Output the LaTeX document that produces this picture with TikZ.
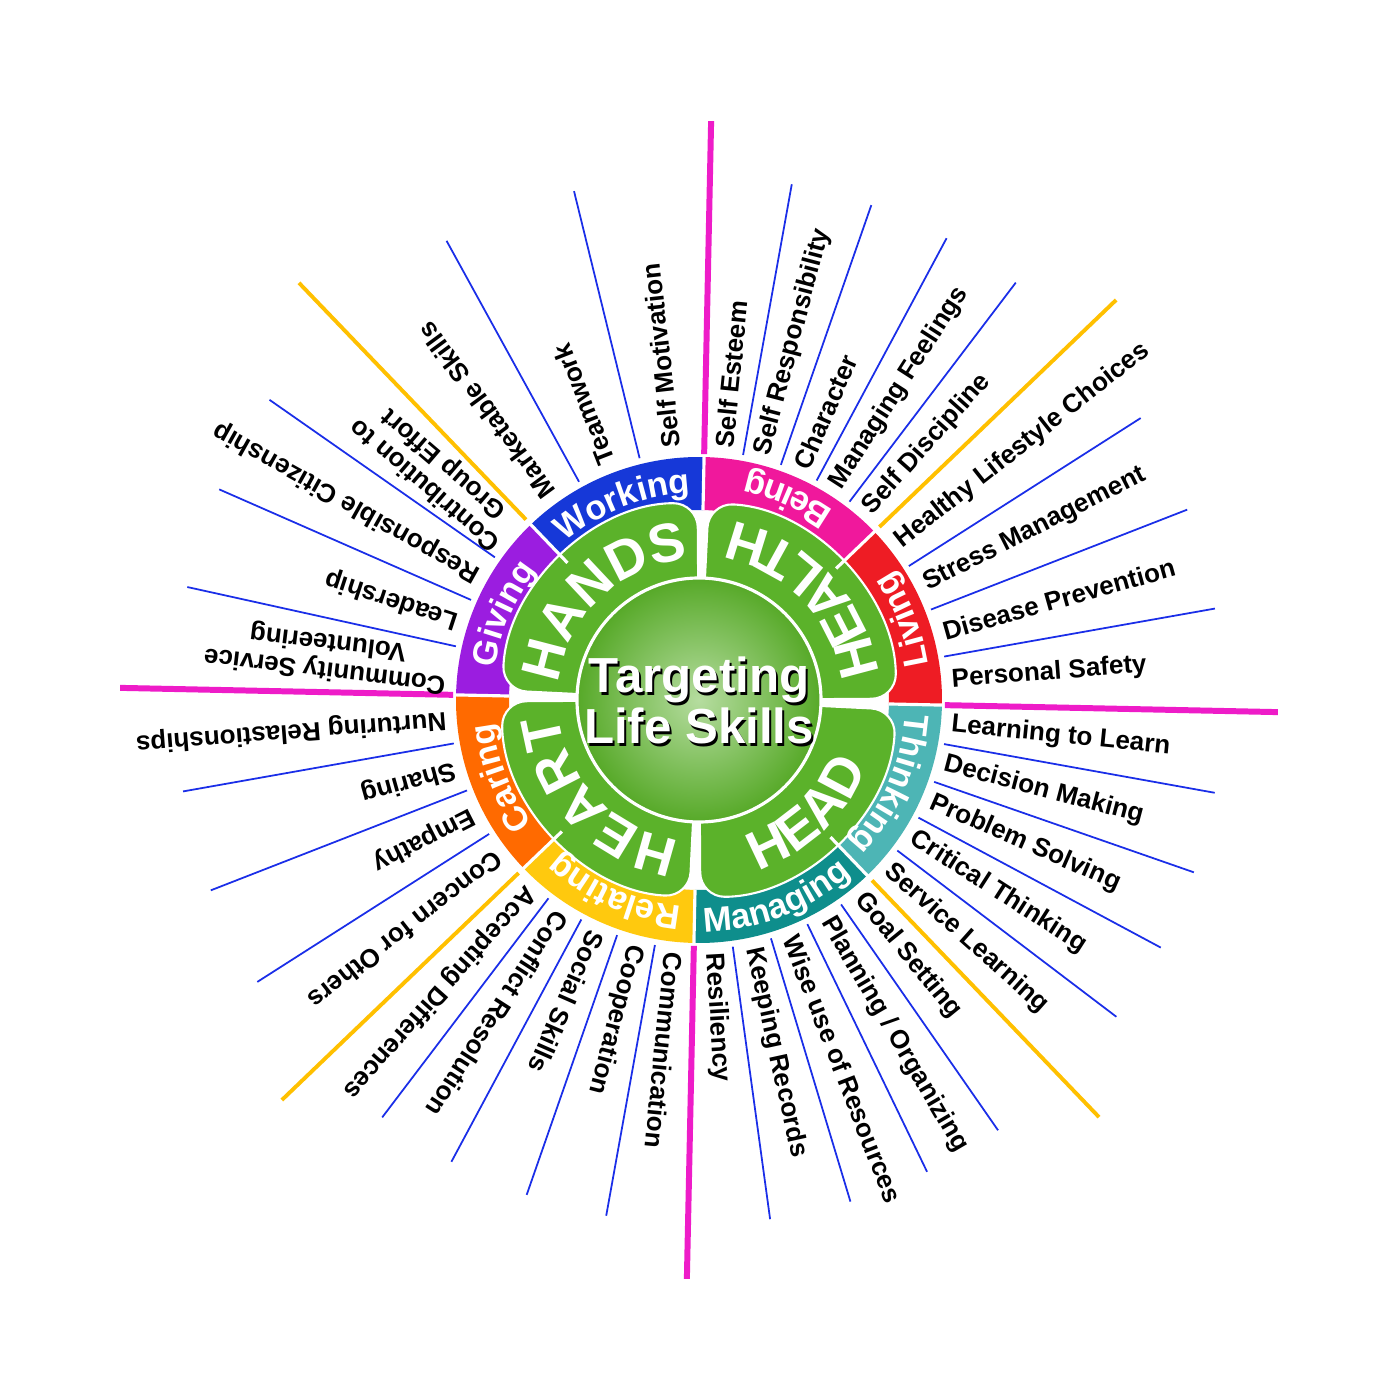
\documentclass[tikz,border=0pt]{standalone}
\usepackage{fontspec}
\setmainfont{Liberation Sans}
\usetikzlibrary{decorations.text}
\definecolor{cWork}{HTML}{1638D8}
\definecolor{cBeing}{HTML}{F0189C}
\definecolor{cLiving}{HTML}{EE1C24}
\definecolor{cThink}{HTML}{4DB5B5}
\definecolor{cManage}{HTML}{0E8E8C}
\definecolor{cRelate}{HTML}{FFC90E}
\definecolor{cCare}{HTML}{FF6A00}
\definecolor{cGive}{HTML}{9B1DE0}
\definecolor{cPetal}{HTML}{5BB22A}
\definecolor{cMag}{HTML}{EE1CC8}
\definecolor{cYel}{HTML}{FFC000}
\definecolor{cBlue}{HTML}{1A2EE8}
\tikzset{
  lbl/.style={anchor=west,inner sep=0pt,font=\fontsize{7.4}{8}\selectfont\bfseries,align=center},
  bluel/.style={cBlue,line width=0.5pt},
  ringtxt/.style={decorate,decoration={text along path,text align=center,text color=white,
     text={|\fontsize{9.8}{10}\selectfont\bfseries|#1}}},
  bigtxt/.style={decorate,decoration={text along path,text align=center,text color=white,
     text={|\fontsize{15.6}{16}\selectfont\bfseries|#1}}},
}
\begin{document}
\begin{tikzpicture}[x=0.01cm,y=0.01cm]
\useasboundingbox[fill=white] (-699,-700) rectangle (701,700);
\def\off{-1.2}
% ring segments
\foreach \k/\c in {0/cLiving,1/cBeing,2/cWork,3/cGive,4/cCare,5/cRelate,6/cManage,7/cThink}{
  \pgfmathsetmacro\a{\k*45+\off}
  \pgfmathsetmacro\b{\a+45}
  \fill[\c] (\a:190) arc[start angle=\a,end angle=\b,radius=190] -- (\b:243)
     arc[start angle=\b,end angle=\a,radius=243] -- cycle;
}
% petals
\foreach \q in {0,1,2,3}{
  \pgfmathsetmacro\a{\q*90+\off+1.6}
  \pgfmathsetmacro\b{\q*90+90+\off-1.6}
  \fill[cPetal,draw=white,line width=0.6pt,rounded corners=7pt]
    (\a:100) -- (\a:197) arc[start angle=\a,end angle=\b,radius=197] -- (\b:100) -- cycle;
}
% separators
\foreach \k in {0,...,7}{
  \draw[white,line width=0.9pt] (\k*45+\off:190) -- (\k*45+\off:245);
}
% center
\shade[inner color=cPetal!45!white,outer color=cPetal!95!black] (0,0) circle (122);
\draw[white,line width=0.9pt] (0,0) circle (122);
% radial lines
\foreach \t in {11.25,22.5,33.75,54,63,72,81,105,120,146.25,157.5,168.75,191.25,202.5,213.75,234,243,252,261,279,288,297,306,324,333,342,351}{
  \draw[bluel] (\t+\off:249) -- (\t+\off:524);
}
\foreach \t in {45,135,225,315}{
  \draw[cYel,line width=1.1pt] (\t+\off:250) -- (\t+\off:578);
}
\foreach \t in {0,90,180,270}{
  \draw[cMag,line width=1.7pt] (\t+\off:246) -- (\t+\off:579);
}
% labels
\foreach \t/\s in {5.625/Personal Safety,16.875/Disease Prevention,28.125/Stress Management,39.375/Healthy Lifestyle Choices,
  49.5/Self Discipline,58.5/Managing Feelings,67.5/Character,76.5/Self Responsibility,85.5/Self Esteem,
  97.5/Self Motivation,112.5/Teamwork,127.5/Marketable Skills,
  140.625/{Contribution to\\Group Effort},151.875/Responsible Citizenship,163.125/Leadership,174.375/{Community Service\\Volunteering},
  185.625/Nurturing Relastionships,196.875/Sharing,208.125/Empathy,219.375/Concern for Others,
  229.5/Accepting Differences,238.5/Conflict Resolution,247.5/Social Skills,256.5/Cooperation,265.5/Communication,
  274.5/Resiliency,283.5/Keeping Records,292.5/Wise use of Resources,301.5/{Planning / Organizing},310.5/Goal Setting,
  319.5/Service Learning,328.5/Critical Thinking,337.5/Problem Solving,346.5/Decision Making,355.5/Learning to Learn}{
  \pgfmathsetmacro\aa{\t+\off}
  \node[lbl,rotate=\aa] (L\t) at (\aa:253) {\s};
}
% ring texts
\path[ringtxt=Working] (133.8:207) arc[start angle=133.8,end angle=88.8,radius=207];
\path[ringtxt=Giving] (178.8:207) arc[start angle=178.8,end angle=133.8,radius=207];
\path[ringtxt=Caring] (223.8:207) arc[start angle=223.8,end angle=178.8,radius=207];
\path[ringtxt=Relating] (268.8:207) arc[start angle=268.8,end angle=223.8,radius=207];
\path[ringtxt=Thinking] (358.8:207) arc[start angle=358.8,end angle=313.8,radius=207];
\path[ringtxt=Being] (43.8:232) arc[start angle=43.8,end angle=88.8,radius=232];
\path[ringtxt=Living] (-1.2:232) arc[start angle=-1.2,end angle=43.8,radius=232];
\path[ringtxt=Managing] (268.8:232) arc[start angle=268.8,end angle=313.8,radius=232];
% petal texts
\path[bigtxt=HANDS] (178.8:141) arc[start angle=178.8,end angle=88.8,radius=141];
\path[bigtxt=HEART] (268.8:141) arc[start angle=268.8,end angle=178.8,radius=141];
\path[bigtxt=HEALTH] (-1.2:181) arc[start angle=-1.2,end angle=88.8,radius=181];
\path[bigtxt=HEAD] (268.8:181) arc[start angle=268.8,end angle=358.8,radius=181];
% center text
\node[black,align=center,font=\fontsize{14}{14.5}\selectfont\bfseries] at (2,-3) {Targeting\\Life Skills};
\node[white,align=center,font=\fontsize{14}{14.5}\selectfont\bfseries] (ctr) at (0,0) {Targeting\\Life Skills};
\end{tikzpicture}
\end{document}
